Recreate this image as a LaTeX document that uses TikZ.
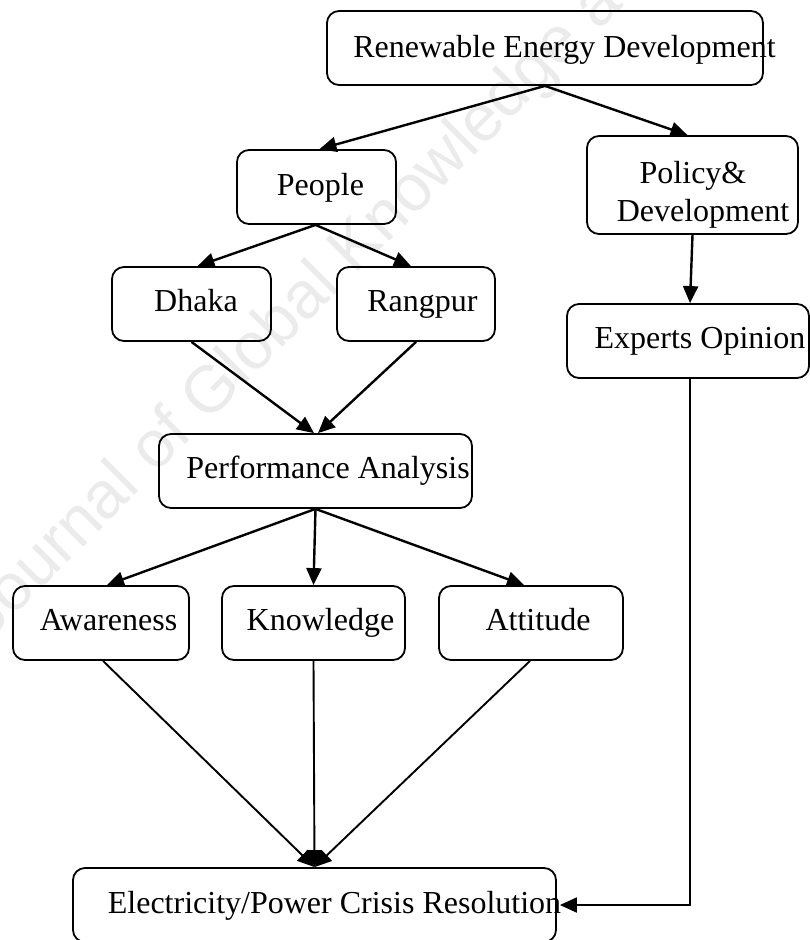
\documentclass[tikz,border=0pt]{standalone}
\usepackage{fontspec}
\setmainfont{Liberation Serif}
\newfontfamily\wmfont{Liberation Sans}
\usetikzlibrary{arrows.meta}
\begin{document}
\begin{tikzpicture}[x=1pt,y=-1pt,
  box/.style={draw, line width=1.8pt, rounded corners=12pt,
              minimum height=74pt, inner sep=0pt},
  lbl/.style={anchor=base, inner sep=0pt, font=\fontsize{32}{37}\selectfont},
  link/.style={line width=2.4pt, -{Triangle[length=17pt,width=15pt]}},
  feed/.style={line width=1.9pt, -{Triangle[length=17pt,width=15pt]}},
  wmark/.style={rotate=45, inner sep=0pt, text=black!8,
                font=\wmfont\fontsize{66}{66}\selectfont}
]
\useasboundingbox (0,0) rectangle (810,940);

% faint background watermark
\node[wmark] (wm) at (295,311) {Journal of Global Knowledge a};

% boxes
\node[box, minimum width=436pt] (ren)     at (545,48)    {};
\node[box, minimum width=159pt] (people)  at (316.5,187) {};
\node[box, minimum width=211pt, minimum height=98pt] (policy) at (692.5,185) {};
\node[box, minimum width=159pt] (dhaka)   at (191.5,304) {};
\node[box, minimum width=158pt] (rangpur) at (416,304)   {};
\node[box, minimum width=242pt] (experts) at (688,341)   {};
\node[box, minimum width=313pt] (perf)    at (315.5,471) {};
\node[box, minimum width=176pt] (aware)   at (101,623)   {};
\node[box, minimum width=183pt] (know)    at (313.5,623) {};
\node[box, minimum width=184pt] (att)     at (531,623)   {};
\node[box, minimum width=483pt] (elec)    at (314.5,905) {};

% box texts
\node[lbl] (ren-t)     at (564.5,57) {Renewable Energy Development};
\node[lbl] (people-t)  at (320.5,195) {People};
\node[lbl] (policy-t1) at (693,183)  {Policy\&};
\node[lbl] (policy-t2) at (703,221)  {Development};
\node[lbl] (dhaka-t)   at (196,311)  {Dhaka};
\node[lbl] (rangpur-t) at (422.5,311) {Rangpur};
\node[lbl] (experts-t) at (700,348)  {Experts Opinion};
\node[lbl] (perf-t)    at (328,478)  {Performance Analysis};
\node[lbl] (aware-t)   at (108.5,630) {Awareness};
\node[lbl] (know-t)    at (320.5,630) {Knowledge};
\node[lbl] (att-t)     at (538,630)  {Attitude};
\node[lbl] (elec-t)    at (334.5,913) {Electricity/Power Crisis Resolution};

% connectors
\draw[link] (ren.south) -- ([xshift=3pt]people.north);
\draw[link] (ren.south) -- ([xshift=-5pt]policy.north);
\draw[link] ([xshift=-1pt]people.south) -- ([xshift=6pt]dhaka.north);
\draw[link] ([xshift=-1pt]people.south) -- ([xshift=-5pt]rangpur.north);
\draw[link] (policy.south) -- ([xshift=2pt]experts.north);
\draw[link] (dhaka.south) -- ([xshift=-1.5pt]perf.north);
\draw[link] (rangpur.south) -- ([xshift=2.5pt]perf.north);
\draw[link] (perf.south) -- ([xshift=6pt]aware.north);
\draw[link] (perf.south) -- (know.north);
\draw[link] (perf.south) -- ([xshift=-7pt]att.north);
\draw[feed] ([xshift=2pt]aware.south) -- (elec.north);
\draw[feed] (know.south) -- (elec.north);
\draw[feed] ([xshift=-1pt]att.south) -- (elec.north);
\draw[feed] ([xshift=2pt]experts.south) |- ([xshift=3pt]elec.east);
\end{tikzpicture}
\end{document}
